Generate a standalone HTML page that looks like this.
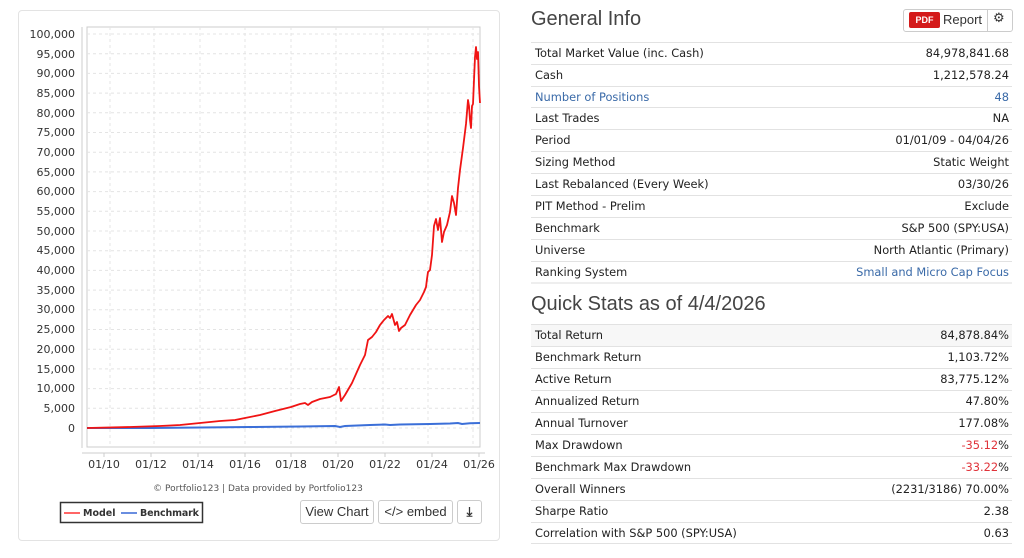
<!DOCTYPE html>
<html><head><meta charset="utf-8"><style>
body{margin:0;width:1024px;height:558px;background:#fff;font-family:"DejaVu Sans","Liberation Sans",sans-serif;position:relative;overflow:hidden;color:#222}
.panel{position:absolute;left:18px;top:10px;width:480px;height:529px;border:1px solid #e3e3e3;border-radius:4px}
.h{position:absolute;left:531px;font-family:"Liberation Sans",sans-serif;font-size:20px;color:#444}
.row{position:absolute;left:531px;width:481px;height:21px;border-top:1px solid #e2e2e2;font-size:11.4px;line-height:21px}
.row span{position:absolute;left:4px}
.row b{position:absolute;right:3px;font-weight:normal}
.blue{color:#3a6aa8}
.red{color:#e0333a}
.btn{position:absolute;border:1px solid #ccc;border-radius:3px;font-family:"Liberation Sans",sans-serif;font-size:13px;color:#333;text-align:center;line-height:22px;height:22px;background:#fff}
</style></head><body>
<div class="panel"></div>
<svg width="520" height="558" style="position:absolute;left:0;top:0" font-family="DejaVu Sans,sans-serif">
<rect x="87" y="27" width="393" height="420" fill="none" stroke="#ccc" stroke-width="1"/>
<line x1="82" y1="27" x2="82" y2="448" stroke="#ccc"/>
<line x1="82" y1="453" x2="485" y2="453" stroke="#ccc"/>
<g stroke="#e4e4e4" stroke-dasharray="3,3">
<line x1="87" x2="480" y1="34" y2="34"/><line x1="87" x2="480" y1="53.7" y2="53.7"/><line x1="87" x2="480" y1="73.4" y2="73.4"/><line x1="87" x2="480" y1="93.1" y2="93.1"/><line x1="87" x2="480" y1="112.8" y2="112.8"/><line x1="87" x2="480" y1="132.5" y2="132.5"/><line x1="87" x2="480" y1="152.2" y2="152.2"/><line x1="87" x2="480" y1="171.9" y2="171.9"/><line x1="87" x2="480" y1="191.6" y2="191.6"/><line x1="87" x2="480" y1="211.3" y2="211.3"/><line x1="87" x2="480" y1="231" y2="231"/><line x1="87" x2="480" y1="250.7" y2="250.7"/><line x1="87" x2="480" y1="270.4" y2="270.4"/><line x1="87" x2="480" y1="290.1" y2="290.1"/><line x1="87" x2="480" y1="309.8" y2="309.8"/><line x1="87" x2="480" y1="329.5" y2="329.5"/><line x1="87" x2="480" y1="349.2" y2="349.2"/><line x1="87" x2="480" y1="368.9" y2="368.9"/><line x1="87" x2="480" y1="388.6" y2="388.6"/><line x1="87" x2="480" y1="408.3" y2="408.3"/><line x1="87" x2="480" y1="428" y2="428"/>
<line y1="27" y2="447" x1="110" x2="110"/><line y1="27" y2="447" x1="154" x2="154"/><line y1="27" y2="447" x1="200" x2="200"/><line y1="27" y2="447" x1="245" x2="245"/><line y1="27" y2="447" x1="291" x2="291"/><line y1="27" y2="447" x1="336" x2="336"/><line y1="27" y2="447" x1="383" x2="383"/><line y1="27" y2="447" x1="428" x2="428"/><line y1="27" y2="447" x1="473" x2="473"/>
</g>
<g font-size="11" fill="#333" text-anchor="end">
<text x="75" y="38">100,000</text><text x="75" y="58">95,000</text><text x="75" y="77">90,000</text><text x="75" y="97">85,000</text><text x="75" y="117">80,000</text><text x="75" y="136">75,000</text><text x="75" y="156">70,000</text><text x="75" y="176">65,000</text><text x="75" y="195">60,000</text><text x="75" y="215">55,000</text><text x="75" y="235">50,000</text><text x="75" y="254">45,000</text><text x="75" y="274">40,000</text><text x="75" y="294">35,000</text><text x="75" y="313">30,000</text><text x="75" y="333">25,000</text><text x="75" y="353">20,000</text><text x="75" y="373">15,000</text><text x="75" y="392">10,000</text><text x="75" y="412">5,000</text><text x="75" y="432">0</text>
</g>
<g font-size="11" fill="#333" text-anchor="middle">
<text x="104" y="468">01/10</text><text x="151" y="468">01/12</text><text x="198" y="468">01/14</text><text x="245" y="468">01/16</text><text x="291" y="468">01/18</text><text x="338" y="468">01/20</text><text x="385" y="468">01/22</text><text x="432" y="468">01/24</text><text x="479" y="468">01/26</text>
</g>
<g stroke="#ccc"><line x1="104" x2="104" y1="453" y2="457"/><line x1="151" x2="151" y1="453" y2="457"/><line x1="198" x2="198" y1="453" y2="457"/><line x1="245" x2="245" y1="453" y2="457"/><line x1="291" x2="291" y1="453" y2="457"/><line x1="338" x2="338" y1="453" y2="457"/><line x1="385" x2="385" y1="453" y2="457"/><line x1="432" x2="432" y1="453" y2="457"/><line x1="479" x2="479" y1="453" y2="457"/></g>
<polyline fill="none" stroke="#3b6fd8" stroke-width="2" points="87,428 150,428 200,427.5 250,427 300,426.5 335,426 340,427 345,426 370,425 385,424.5 390,425 400,424.5 430,424 450,423.5 458,423 462,424 470,423.3 480,423"/>
<polyline fill="none" stroke="#f01414" stroke-width="1.8" stroke-linejoin="round" points="87,428 130,427 160,426 180,425 200,423 220,421 235,420 245,418 260,415 275,411 291,407 300,404 305,403 308,405 312,402 320,399 330,397 336,394 339,387 341,401 345,395 352,383 360,365 365,355 368,340 372,337 376,332 380,325 384,320 388,316 390,318 392,314 395,325 397,322 399,331 401,328 405,325 410,315 416,305 420,300 424,292 426,287 427,279 428,272 430,270 432,255 434,226 436,219 438,230 440,218 442,242 444,232 447,225 450,212 452,196 454,203 456,215 458,188 460,170 463,148 466,124 468,100 469,106 470,120 471,128 472,106 473,104 474,80 475,57 476,47 477,59 478,52 479,86 480,103"/>
<text x="258" y="491" font-size="9" fill="#555" text-anchor="middle">© Portfolio123 | Data provided by Portfolio123</text>
<rect x="60.5" y="502.5" width="142" height="20" fill="#fff" stroke="#333" stroke-width="1.5"/>
<line x1="64" x2="80" y1="513" y2="513" stroke="#f66" stroke-width="2"/>
<text x="83" y="516" font-size="9.5" font-weight="bold" fill="#333">Model</text>
<line x1="121" x2="137" y1="513" y2="513" stroke="#6a8ee0" stroke-width="2"/>
<text x="140" y="516" font-size="9.5" font-weight="bold" fill="#333" textLength="59">Benchmark</text>
</svg>
<div class="btn" style="left:300px;top:500px;width:72px">View Chart</div>
<div class="btn" style="left:378px;top:500px;width:73px">&lt;/&gt; embed</div>
<div class="btn" style="left:457px;top:500px;width:23px;font-weight:bold">⤓</div>

<div class="h" style="top:8px">General Info</div>
<div style="position:absolute;left:903px;top:9px;width:108px;height:21px;border:1px solid #ccc;border-radius:3px"></div>
<div style="position:absolute;left:909px;top:12px;width:31px;height:16px;background:#d41a1a;border-radius:2px;color:#fff;font-size:9px;font-weight:bold;text-align:center;line-height:16px;font-family:'Liberation Sans',sans-serif">PDF</div>
<div style="position:absolute;left:943px;top:12px;font-family:'Liberation Sans',sans-serif;font-size:13px;color:#333">Report</div>
<div style="position:absolute;left:987px;top:9px;width:1px;height:22px;background:#ccc"></div>
<div style="position:absolute;left:993px;top:11px;font-size:13px;color:#333">⚙</div>

<div class="row" style="top:42px"><span>Total Market Value (inc. Cash)</span><b>84,978,841.68</b></div>
<div class="row" style="top:64px"><span>Cash</span><b>1,212,578.24</b></div>
<div class="row blue" style="top:86px"><span>Number of Positions</span><b>48</b></div>
<div class="row" style="top:107px"><span>Last Trades</span><b>NA</b></div>
<div class="row" style="top:129px"><span>Period</span><b>01/01/09 - 04/04/26</b></div>
<div class="row" style="top:151px"><span>Sizing Method</span><b>Static Weight</b></div>
<div class="row" style="top:173px"><span>Last Rebalanced (Every Week)</span><b>03/30/26</b></div>
<div class="row" style="top:195px"><span>PIT Method - Prelim</span><b>Exclude</b></div>
<div class="row" style="top:217px"><span>Benchmark</span><b>S&amp;P 500 (SPY:USA)</b></div>
<div class="row" style="top:239px"><span>Universe</span><b>North Atlantic (Primary)</b></div>
<div class="row" style="top:261px"><span>Ranking System</span><b class="blue">Small and Micro Cap Focus</b></div>
<div class="row" style="top:282px;height:0;border-top:2px solid #eee"></div>

<div class="h" style="top:293px">Quick Stats as of 4/4/2026</div>
<div class="row" style="top:324px;background:#f7f7f7"><span>Total Return</span><b>84,878.84%</b></div>
<div class="row" style="top:346px"><span>Benchmark Return</span><b>1,103.72%</b></div>
<div class="row" style="top:368px"><span>Active Return</span><b>83,775.12%</b></div>
<div class="row" style="top:390px"><span>Annualized Return</span><b>47.80%</b></div>
<div class="row" style="top:412px"><span>Annual Turnover</span><b>177.08%</b></div>
<div class="row" style="top:434px"><span>Max Drawdown</span><b><i class="red" style="font-style:normal">-35.12</i>%</b></div>
<div class="row" style="top:456px"><span>Benchmark Max Drawdown</span><b><i class="red" style="font-style:normal">-33.22</i>%</b></div>
<div class="row" style="top:478px"><span>Overall Winners</span><b>(2231/3186) 70.00%</b></div>
<div class="row" style="top:500px"><span>Sharpe Ratio</span><b>2.38</b></div>
<div class="row" style="top:522px"><span>Correlation with S&amp;P 500 (SPY:USA)</span><b>0.63</b></div>
<div class="row" style="top:543px;height:0"></div>
</body></html>
